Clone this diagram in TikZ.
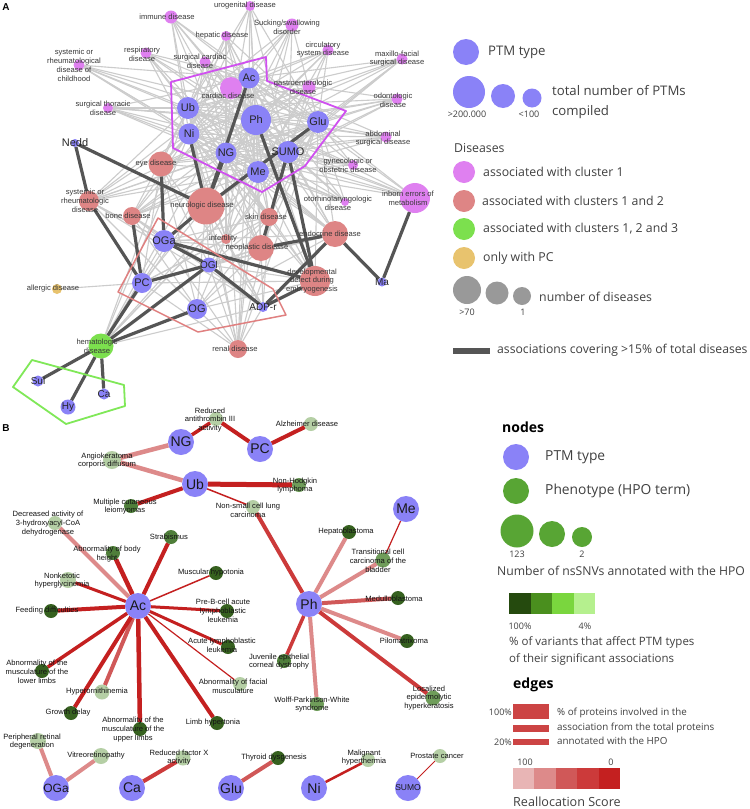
\documentclass[tikz,border=0pt]{standalone}
\usepackage{fontspec}
\setmainfont{Liberation Sans}
\newfontfamily\legfont{Open Sans}
\pgfdeclarelayer{paper}
\pgfdeclarelayer{lite}
\pgfdeclarelayer{heavy}
\pgfsetlayers{paper,lite,heavy,main}
\definecolor{ptm}{HTML}{8A82F7}
\definecolor{pinkd}{HTML}{DF80F0}
\definecolor{salm}{HTML}{DE8585}
\definecolor{grnd}{HTML}{7CE04E}
\definecolor{yeld}{HTML}{E8C36E}
\definecolor{grayd}{HTML}{999999}
\definecolor{darke}{HTML}{555555}
\definecolor{lighte}{HTML}{CCCCCC}
\definecolor{magp}{HTML}{D050F0}
\definecolor{salp}{HTML}{E08080}
\definecolor{grnp}{HTML}{80E858}
\definecolor{phdark}{HTML}{36611F}
\definecolor{phmd}{HTML}{4F7E3A}
\definecolor{phmid}{HTML}{6F9D5A}
\definecolor{phpale}{HTML}{B5CFA5}
\definecolor{phleg}{HTML}{58A534}
\definecolor{gA}{HTML}{254A0E}
\definecolor{gB}{HTML}{4A8F1E}
\definecolor{gC}{HTML}{7AD63E}
\definecolor{gD}{HTML}{B5F08E}
\definecolor{reA}{HTML}{C42020}
\definecolor{reB}{HTML}{CC3A3A}
\definecolor{reC}{HTML}{D05858}
\definecolor{reD}{HTML}{DD8A8A}
\definecolor{reE}{HTML}{E8B5B5}
\definecolor{barred}{HTML}{CC4444}
\tikzset{
 dot/.style={circle, inner sep=0pt, outer sep=0pt, draw=none},
 ptxt/.style={inner sep=0pt, text=black!85, font=\fontsize{11}{11}\selectfont},
 ptxts/.style={inner sep=0pt, text=black!85, font=\fontsize{10}{10}\selectfont},
 ptxtb/.style={inner sep=0pt, text=black!90, font=\fontsize{14}{14}\selectfont},
 bptm/.style={dot, fill=ptm, minimum size=26},
 lbl/.style={inner sep=0pt, align=center, font=\fontsize{7.6}{8.9}\selectfont, text=black!78},
 lblb/.style={lbl, text=black!92},
 liteedge/.style={draw=lighte, line width=1.1},
 heavyedge/.style={draw=darke, line width=3.2},
 leg/.style={inner sep=0pt, anchor=west, align=left, text=black!75, font=\legfont\fontsize{12.3}{14}\selectfont},
 legbig/.style={leg, font=\legfont\fontsize{13.2}{20}\selectfont},
 legsm/.style={inner sep=0pt, text=black!75, font=\legfont\fontsize{9}{10}\selectfont},
 legbold/.style={inner sep=0pt, anchor=west, text=black, font=\legfont\bfseries\fontsize{14}{14}\selectfont},
 swatch/.style={rectangle, inner sep=0pt, outer sep=0pt, draw=none},
 panellbl/.style={inner sep=0pt, font=\bfseries\fontsize{10}{10}\selectfont}
}
\begin{document}
\begin{tikzpicture}[x=1pt,y=-1pt]
\useasboundingbox (0,0) rectangle (750,809);
\begin{pgfonlayer}{paper}
\fill[white] (0,0) rectangle (750,809);
\end{pgfonlayer}

% ================= PANEL A =================
\node[panellbl] (labA) at (6,7) {A};
% cluster 1 PTMs
\node[dot, fill=ptm, minimum size=21] (Ac) at (249,78) {};
\node[dot, fill=ptm, minimum size=22] (Ub) at (188,108) {};
\node[dot, fill=ptm, minimum size=21] (Ni) at (189,134) {};
\node[dot, fill=ptm, minimum size=30] (Ph) at (256,120) {};
\node[dot, fill=ptm, minimum size=22] (Glu) at (318,122) {};
\node[dot, fill=ptm, minimum size=21] (NG) at (226,153) {};
\node[dot, fill=ptm, minimum size=22] (SUMO) at (288,152) {};
\node[dot, fill=ptm, minimum size=22] (Me) at (258,172) {};
\node[dot, fill=ptm, minimum size=8] (Nedd) at (75,143) {};
% cluster 2 PTMs
\node[dot, fill=ptm, minimum size=22] (OGa) at (164,241) {};
\node[dot, fill=ptm, minimum size=15] (OGl) at (209,265) {};
\node[dot, fill=ptm, minimum size=20] (PC) at (142,283) {};
\node[dot, fill=ptm, minimum size=20] (OG) at (197,309) {};
\node[dot, fill=ptm, minimum size=10] (ADPr) at (263,307) {};
\node[dot, fill=ptm, minimum size=9] (Ma) at (382,282) {};
% cluster 3 PTMs
\node[dot, fill=ptm, minimum size=11] (Sul) at (38,381) {};
\node[dot, fill=ptm, minimum size=15] (Hy) at (68,407) {};
\node[dot, fill=ptm, minimum size=11] (Ca) at (104,394) {};
% pink diseases
\node[dot, fill=pinkd, minimum size=10] (uro) at (250,6) {};
\node[dot, fill=pinkd, minimum size=13] (imm) at (171,17) {};
\node[dot, fill=pinkd, minimum size=13] (suck) at (292,25) {};
\node[dot, fill=pinkd, minimum size=10] (hep) at (226,36) {};
\node[dot, fill=pinkd, minimum size=11] (circ) at (328,50) {};
\node[dot, fill=pinkd, minimum size=11] (resp) at (146,53) {};
\node[dot, fill=pinkd, minimum size=11] (surgc) at (205,62) {};
\node[dot, fill=pinkd, minimum size=11] (child) at (79,65) {};
\node[dot, fill=pinkd, minimum size=11] (maxi) at (402,59) {};
\node[dot, fill=pinkd, minimum size=13] (gast) at (309,87) {};
\node[dot, fill=pinkd, minimum size=11] (odon) at (397,99) {};
\node[dot, fill=pinkd, minimum size=22] (card) at (231,88) {};
\node[dot, fill=pinkd, minimum size=10] (thor) at (108,108) {};
\node[dot, fill=pinkd, minimum size=11] (abd) at (386,137) {};
\node[dot, fill=pinkd, minimum size=10] (gyn) at (353,165) {};
\node[dot, fill=pinkd, minimum size=30] (inb) at (415,198) {};
\node[dot, fill=pinkd, minimum size=8] (oto) at (345,202) {};
% salmon diseases
\node[dot, fill=salm, minimum size=25] (eye) at (161,164) {};
\node[dot, fill=salm, minimum size=37] (neur) at (206,206) {};
\node[dot, fill=salm, minimum size=20] (sysr) at (89,201) {};
\node[dot, fill=salm, minimum size=18] (bone) at (132,216) {};
\node[dot, fill=salm, minimum size=18] (skin) at (269,217) {};
\node[dot, fill=salm, minimum size=10] (infe) at (226,239) {};
\node[dot, fill=salm, minimum size=26] (neop) at (261,248) {};
\node[dot, fill=salm, minimum size=26] (endo) at (335,234) {};
\node[dot, fill=salm, minimum size=30] (devd) at (315,281) {};
\node[dot, fill=salm, minimum size=18] (ren) at (238,349) {};
% others
\node[dot, fill=yeld, minimum size=10] (alle) at (57,289) {};
\node[dot, fill=grnd, minimum size=25] (hem) at (101,346) {};

% light edges
\begin{pgfonlayer}{lite}
\foreach \a in {Ac,Ub,Ni,Ph,Glu,NG,SUMO,Me}{
  \foreach \b in {uro,imm,suck,hep,circ,resp,surgc,child,maxi,gast,odon,card,thor,abd,gyn,inb,oto}{
    \draw[liteedge] (\a) -- (\b);
  }
}
\foreach \a in {Ac,Ub,Ni,Ph,Glu,NG,SUMO,Me,OGa,OGl,PC,OG,ADPr}{
  \foreach \b in {eye,neur,sysr,bone,skin,infe,neop,endo,devd,ren,hem}{
    \draw[liteedge] (\a) -- (\b);
  }
}
\draw[liteedge] (PC) -- (alle);
\end{pgfonlayer}
% heavy edges and cluster outlines
\begin{pgfonlayer}{heavy}
\foreach \a/\b in {Nedd/neur, Nedd/sysr, sysr/PC, bone/PC, eye/OGa, neur/OGa, Ni/neur, Ac/neur, Glu/neur, NG/neur, Ph/devd, SUMO/devd, SUMO/neop, neop/endo, OGa/devd, OGa/OGl, OGl/ADPr, PC/OGl, ADPr/devd, ADPr/endo, Ma/endo, Ma/inb, hem/PC, hem/OGl, hem/OG, hem/Sul, hem/Hy, hem/Ca}{
  \draw[heavyedge] (\a) -- (\b);
}
\draw[magp, line width=1.8, line join=round] (171,82) -- (266,57) -- (267,81) -- (346,111) -- (305,166) -- (262,192) -- (173,148) -- cycle;
\draw[salp, line width=1.5, line join=round] (158,218) -- (273,289) -- (286,315) -- (198,332) -- (118,292) -- cycle;
\draw[grnp, line width=1.8, line join=round] (32,360) -- (124,385) -- (125,406) -- (66,424) -- (13,387) -- cycle;
\end{pgfonlayer}

% PTM labels A
\node[ptxt] (tAc) at (Ac) {Ac};
\node[ptxt] (tUb) at (Ub) {Ub};
\node[ptxt] (tNi) at (Ni) {Ni};
\node[ptxt] (tPh) at (Ph) {Ph};
\node[ptxt] (tGlu) at (Glu) {Glu};
\node[ptxt] (tNG) at (NG) {NG};
\node[ptxt] (tSUMO) at (SUMO) {SUMO};
\node[ptxt] (tMe) at (Me) {Me};
\node[ptxt] (tNedd) at (Nedd) {Nedd};
\node[ptxt] (tOGa) at (OGa) {OGa};
\node[ptxts] (tOGl) at (OGl) {OGl};
\node[ptxt] (tPC) at (PC) {PC};
\node[ptxt] (tOG) at (OG) {OG};
\node[ptxts] (tADPr) at (ADPr) {ADP-r};
\node[ptxts] (tMa) at (Ma) {Ma};
\node[ptxts] (tSul) at (Sul) {Sul};
\node[ptxts] (tHy) at (Hy) {Hy};
\node[ptxts] (tCa) at (Ca) {Ca};
% disease labels
\node[lbl] (luro) at (245,6) {urogenital disease};
\node[lbl] (limm) at (167,17) {immune disease};
\node[lbl] (lsuck) at (287,27.5) {Sucking/swallowing\\disorder};
\node[lbl] (lhep) at (222,36) {hepatic disease};
\node[lbl] (lcirc) at (323,49.5) {circulatory\\system disease};
\node[lbl] (lresp) at (142,54) {respiratory\\disease};
\node[lbl] (lsurgc) at (200,61.5) {surgical cardiac\\disease};
\node[lbl] (lchild) at (74,65.5) {systemic or\\rheumatological\\disease of\\childhood};
\node[lbl] (lmaxi) at (397,58.5) {maxillo-facial\\surgical disease};
\node[lbl] (lgast) at (303,87) {gastroenterologic\\disease};
\node[lbl] (lodon) at (393,100.5) {odontologic\\disease};
\node[lbl] (lcard) at (228,96) {cardiac disease};
\node[lbl] (lthor) at (103,108.5) {surgical thoracic\\disease};
\node[lbl] (labd) at (383,138.5) {abdominal\\surgical disease};
\node[lbl] (lgyn) at (348,165) {gynecologic or\\obstetric disease};
\node[lbl] (linb) at (408,198) {inborn errors of\\metabolism};
\node[lbl] (loto) at (338,203.5) {otorhinolaryngologic\\disease};
\node[lbl] (leye) at (156,164) {eye disease};
\node[lbl] (lneur) at (202,206) {neurologic disease};
\node[lbl] (lsysr) at (85,201) {systemic or\\rheumatologic\\disease};
\node[lbl] (lbone) at (128,216) {bone disease};
\node[lbl] (lskin) at (266,217) {skin disease};
\node[lbl] (linfe) at (223,239) {infertility};
\node[lbl] (lneop) at (257,248) {neoplastic disease};
\node[lbl] (lendo) at (330,234) {endocrine disease};
\node[lbl] (ldevd) at (312,281) {developmental\\defect during\\embryogenesis};
\node[lbl] (lren) at (235,349) {renal disease};
\node[lbl] (lalle) at (53,289) {allergic disease};
\node[lbl] (lhem) at (97,346.5) {hematologic\\disease};

% legend A
\node[dot, fill=ptm, minimum size=26] (lgP) at (466,52) {};
\node[legbig] (lgPt) at (488,52) {PTM type};
\node[dot, fill=ptm, minimum size=32] (lgP1) at (469,92) {};
\node[dot, fill=ptm, minimum size=24] (lgP2) at (503,96) {};
\node[dot, fill=ptm, minimum size=19] (lgP3) at (532,98) {};
\node[legsm] (lgP1t) at (467,114) {>200.000};
\node[legsm] (lgP3t) at (529,114) {<100};
\node[legbig] (lgPtt) at (552,102) {total number of PTMs\\compiled};
\node[leg] (lgDis) at (454,148) {Diseases};
\node[dot, fill=pinkd, minimum size=22] (lgD1) at (464,172) {};
\node[dot, fill=salm, minimum size=22] (lgD2) at (464,201) {};
\node[dot, fill=grnd, minimum size=22] (lgD3) at (464,229) {};
\node[dot, fill=yeld, minimum size=22] (lgD4) at (464,258) {};
\node[leg] (lgD1t) at (483,172) {associated with cluster 1};
\node[leg] (lgD2t) at (482,201) {associated with clusters 1 and 2};
\node[leg] (lgD3t) at (483,229) {associated with clusters 1, 2 and 3};
\node[leg] (lgD4t) at (483,258) {only with PC};
\node[dot, fill=grayd, minimum size=28] (lgG1) at (467,290) {};
\node[dot, fill=grayd, minimum size=23] (lgG2) at (497,293) {};
\node[dot, fill=grayd, minimum size=18] (lgG3) at (522,296) {};
\node[legsm] (lgG1t) at (467,312) {>70};
\node[legsm] (lgG3t) at (523,312) {1};
\node[leg] (lgGt) at (539,297) {number of diseases};
\coordinate (lgBa) at (453,351);
\coordinate (lgBb) at (490,351);
\draw[darke, line width=6] (lgBa) -- (lgBb);
\node[leg, font=\legfont\fontsize{12.2}{14}\selectfont] (lgBt) at (497,350) {associations covering >15\% of total diseases};

% ================= PANEL B =================
\node[panellbl] (labB) at (6,428) {B};
\node[bptm] (bNG) at (181,442) {};
\node[bptm] (bPC) at (260,449) {};
\node[bptm] (bUb) at (195,484) {};
\node[bptm] (bMe) at (406,509) {};
\node[bptm] (bAc) at (138,606) {};
\node[bptm] (bPh) at (309,604) {};
\node[bptm] (bOGa) at (56,788) {};
\node[bptm] (bCa) at (132,788) {};
\node[bptm] (bGlu) at (231,788) {};
\node[bptm] (bNi) at (314,788) {};
\node[bptm] (bSUMO) at (408,788) {};
% phenotypes
\node[dot, fill=phpale, minimum size=14] (pRAT) at (216,419) {};
\node[dot, fill=phpale, minimum size=14] (pALZ) at (311,424) {};
\node[dot, fill=phpale, minimum size=18] (pANG) at (112,460) {};
\node[dot, fill=phmid, minimum size=14] (pNHL) at (299,485) {};
\node[dot, fill=phmd, minimum size=14] (pMCL) at (131,506) {};
\node[dot, fill=phpale, minimum size=14] (pNSC) at (253,507) {};
\node[dot, fill=phpale, minimum size=14] (pDEC) at (55,523) {};
\node[dot, fill=phdark, minimum size=14] (pHEP) at (349,532) {};
\node[dot, fill=phmd, minimum size=14] (pSTR) at (171,537) {};
\node[dot, fill=phmd, minimum size=14] (pABH) at (113,553) {};
\node[dot, fill=phmid, minimum size=15] (pTCC) at (383,560) {};
\node[dot, fill=phdark, minimum size=14] (pMUS) at (216,573) {};
\node[dot, fill=phpale, minimum size=16] (pNON) at (68,580) {};
\node[dot, fill=phdark, minimum size=14] (pFEE) at (51,611) {};
\node[dot, fill=phdark, minimum size=14] (pPRE) at (227,611) {};
\node[dot, fill=phdark, minimum size=14] (pMED) at (398,598) {};
\node[dot, fill=phdark, minimum size=14] (pALL) at (228,647) {};
\node[dot, fill=phdark, minimum size=14] (pPIL) at (407,641) {};
\node[dot, fill=phmd, minimum size=14] (pJUV) at (284,661) {};
\node[dot, fill=phdark, minimum size=14] (pABL) at (42,671) {};
\node[dot, fill=phpale, minimum size=14] (pFAC) at (240,684) {};
\node[dot, fill=phpale, minimum size=15] (pHYP) at (102,692) {};
\node[dot, fill=phmid, minimum size=14] (pWPW) at (317,704) {};
\node[dot, fill=phmid, minimum size=15] (pLOC) at (433,698) {};
\node[dot, fill=phdark, minimum size=14] (pGRO) at (71,713) {};
\node[dot, fill=phdark, minimum size=14] (pABU) at (140,729) {};
\node[dot, fill=phdark, minimum size=14] (pLIM) at (217,723) {};
\node[dot, fill=phpale, minimum size=16] (pPER) at (38,741) {};
\node[dot, fill=phpale, minimum size=16] (pVIT) at (101,756) {};
\node[dot, fill=phpale, minimum size=15] (pRFX) at (183,758) {};
\node[dot, fill=phdark, minimum size=14] (pTHY) at (278,758) {};
\node[dot, fill=phpale, minimum size=14] (pMAL) at (368,760) {};
\node[dot, fill=phpale, minimum size=14] (pPRO) at (440,756) {};

\begin{pgfonlayer}{heavy}
\foreach \a/\b/\c/\w in {bNG/pRAT/reA/3.5, bNG/pANG/reD/4.5, bPC/pRAT/reA/4, bPC/pALZ/reA/4,
  bUb/pANG/reD/4.5, bUb/pNHL/reA/5, bUb/pMCL/reA/4, bUb/pNSC/reA/1.5, bPh/pNSC/reB/4,
  bMe/pTCC/reA/1.2, bPh/pHEP/reD/4, bPh/pTCC/reD/4, bPh/pMED/reC/4, bPh/pPIL/reD/4,
  bPh/pLOC/reB/4, bPh/pWPW/reD/4, bPh/pJUV/reB/3.5,
  bAc/pDEC/reD/4, bAc/pABH/reA/4.5, bAc/pSTR/reA/4, bAc/pNON/reA/3, bAc/pMUS/reA/1.5,
  bAc/pFEE/reA/4, bAc/pPRE/reA/3, bAc/pALL/reA/3, bAc/pFAC/reA/1.2, bAc/pLIM/reA/4,
  bAc/pABU/reA/4.5, bAc/pHYP/reC/4, bAc/pGRO/reA/4, bAc/pABL/reA/3.5,
  bOGa/pPER/reD/4, bOGa/pVIT/reD/4, bCa/pRFX/reB/4, bGlu/pTHY/reC/4, bNi/pMAL/reA/2.5,
  bSUMO/pPRO/reA/0.8}{
  \draw[\c, line width=\w] (\a) -- (\b);
}
\end{pgfonlayer}

\node[ptxtb] (tbNG) at (bNG) {NG};
\node[ptxtb] (tbPC) at (bPC) {PC};
\node[ptxtb] (tbUb) at (bUb) {Ub};
\node[ptxtb] (tbMe) at (bMe) {Me};
\node[ptxtb] (tbAc) at (bAc) {Ac};
\node[ptxtb] (tbPh) at (bPh) {Ph};
\node[ptxtb, font=\fontsize{12}{12}\selectfont] (tbOGa) at (bOGa) {OGa};
\node[ptxtb] (tbCa) at (bCa) {Ca};
\node[ptxtb] (tbGlu) at (bGlu) {Glu};
\node[ptxtb] (tbNi) at (bNi) {Ni};
\node[ptxtb, font=\fontsize{8.5}{8.5}\selectfont] (tbSUMO) at (bSUMO) {SUMO};

\node[lblb] (lRAT) at (210,420) {Reduced\\antithrombin III\\activity};
\node[lblb] (lALZ) at (307,424) {Alzheimer disease};
\node[lblb] (lANG) at (107,460.5) {Angiokeratoma\\corporis diffusum};
\node[lblb] (lNHL) at (295,485.5) {Non-Hodgkin\\lymphoma};
\node[lblb] (lMCL) at (125,506.5) {Multiple cutaneous\\leiomyomas};
\node[lblb] (lNSC) at (248,510.5) {Non-small cell lung\\carcinoma};
\node[lblb] (lDEC) at (48,523.5) {Decreased activity of\\3-hydroxyacyl-CoA\\dehydrogenase};
\node[lblb] (lHEP) at (346,532) {Hepatoblastoma};
\node[lblb] (lSTR) at (169,537) {Strabismus};
\node[lblb] (lABH) at (107,554) {Abnormality of body\\height};
\node[lblb] (lTCC) at (378,561) {Transitional cell\\carcinoma of the\\bladder};
\node[lblb] (lMUS) at (211,573) {Muscular hypotonia};
\node[lblb] (lNON) at (62,580.5) {Nonketotic\\hyperglycinemia};
\node[lblb] (lFEE) at (47,611) {Feeding difficulties};
\node[lblb] (lPRE) at (223,610.5) {Pre-B-cell acute\\lymphoblastic\\leukemia};
\node[lblb] (lMED) at (394,599) {Medulloblastoma};
\node[lblb] (lALL) at (222,645.5) {Acute lymphoblastic\\leukemia};
\node[lblb] (lPIL) at (404,641) {Pilomatrixoma};
\node[lblb] (lJUV) at (279,661.5) {Juvenile epithelial\\corneal dystrophy};
\node[lblb] (lABL) at (37,671.5) {Abnormality of the\\musculature of the\\lower limbs};
\node[lblb] (lFAC) at (233,686.5) {Abnormality of facial\\musculature};
\node[lblb] (lHYP) at (97,692) {Hyperornithinemia};
\node[lblb] (lWPW) at (312,704.5) {Wolff-Parkinson-White\\syndrome};
\node[lblb] (lLOC) at (429,698) {Localized\\epidermolytic\\hyperkeratosis};
\node[lblb] (lGRO) at (68,713) {Growth delay};
\node[lblb] (lABU) at (133,729.5) {Abnormality of the\\musculature of the\\upper limbs};
\node[lblb] (lLIM) at (213,723) {Limb hypertonia};
\node[lblb] (lPER) at (32,741.5) {Peripheral retinal\\degeneration};
\node[lblb] (lVIT) at (96,756) {Vitreoretinopathy};
\node[lblb] (lRFX) at (179,757.5) {Reduced factor X\\activity};
\node[lblb] (lTHY) at (274,758) {Thyroid dysgenesis};
\node[lblb] (lMAL) at (364,757.5) {Malignant\\hyperthermia};
\node[lblb] (lPRO) at (437,756) {Prostate cancer};

% legend B
\node[legbold] (lgNodes) at (502,427) {nodes};
\node[dot, fill=ptm, minimum size=26] (lgBP) at (516,457) {};
\node[legbig, font=\legfont\fontsize{13.8}{20}\selectfont] (lgBPt) at (545,457) {PTM type};
\node[dot, fill=phleg, minimum size=26] (lgBG) at (516,491) {};
\node[legbig, font=\legfont\fontsize{13.8}{20}\selectfont] (lgBGt) at (545,491) {Phenotype (HPO term)};
\node[dot, fill=phleg, minimum size=33] (lgS1) at (517,531) {};
\node[dot, fill=phleg, minimum size=26] (lgS2) at (552,534) {};
\node[dot, fill=phleg, minimum size=20] (lgS3) at (582,537) {};
\node[legsm] (lgS1t) at (517,554) {123};
\node[legsm] (lgS3t) at (582,554) {2};
\node[leg, font=\legfont\fontsize{12.2}{14}\selectfont] (lgNt) at (497,571) {Number of nsSNVs annotated with the HPO};
\node[swatch, fill=gA, minimum width=21.5, minimum height=21] (sqA) at (519.75,603.5) {};
\node[swatch, fill=gB, minimum width=21.5, minimum height=21] (sqB) at (541.25,603.5) {};
\node[swatch, fill=gC, minimum width=21.5, minimum height=21] (sqC) at (562.75,603.5) {};
\node[swatch, fill=gD, minimum width=21.5, minimum height=21] (sqD) at (584.25,603.5) {};
\node[legsm] (sqAt) at (520,626) {100\%};
\node[legsm] (sqDt) at (585,626) {4\%};
\node[leg, font=\legfont\fontsize{11.5}{17}\selectfont] (lgVt) at (509,650.5) {\% of variants that affect PTM types\\of their significant associations};
\node[legbold] (lgEdges) at (513,685) {edges};
\node[swatch, fill=barred, minimum width=36, minimum height=15] (brA) at (531,711.5) {};
\node[swatch, fill=barred, minimum width=36, minimum height=7] (brB) at (531,728.5) {};
\node[swatch, fill=barred, minimum width=36, minimum height=6] (brC) at (531,742) {};
\node[legsm, anchor=east] (brAt) at (512,712) {100\%};
\node[legsm, anchor=east] (brCt) at (512,742) {20\%};
\node[leg, font=\legfont\fontsize{9.8}{14.5}\selectfont] (lgPt2) at (557,726.5) {\% of proteins involved in the\\association from the total proteins\\annotated with the HPO};
\node[legsm] (rsA) at (525,762) {100};
\node[legsm] (rsB) at (611,762) {0};
\node[swatch, fill=reE, minimum width=21.4, minimum height=21] (rqA) at (523.7,778.5) {};
\node[swatch, fill=reD, minimum width=21.4, minimum height=21] (rqB) at (545.1,778.5) {};
\node[swatch, fill=reC, minimum width=21.4, minimum height=21] (rqC) at (566.5,778.5) {};
\node[swatch, fill=reB, minimum width=21.4, minimum height=21] (rqD) at (587.9,778.5) {};
\node[swatch, fill=reA, minimum width=21.4, minimum height=21] (rqE) at (609.3,778.5) {};
\node[leg, font=\legfont\fontsize{12.6}{14}\selectfont] (lgRS) at (513,802) {Reallocation Score};
\end{tikzpicture}
\end{document}
